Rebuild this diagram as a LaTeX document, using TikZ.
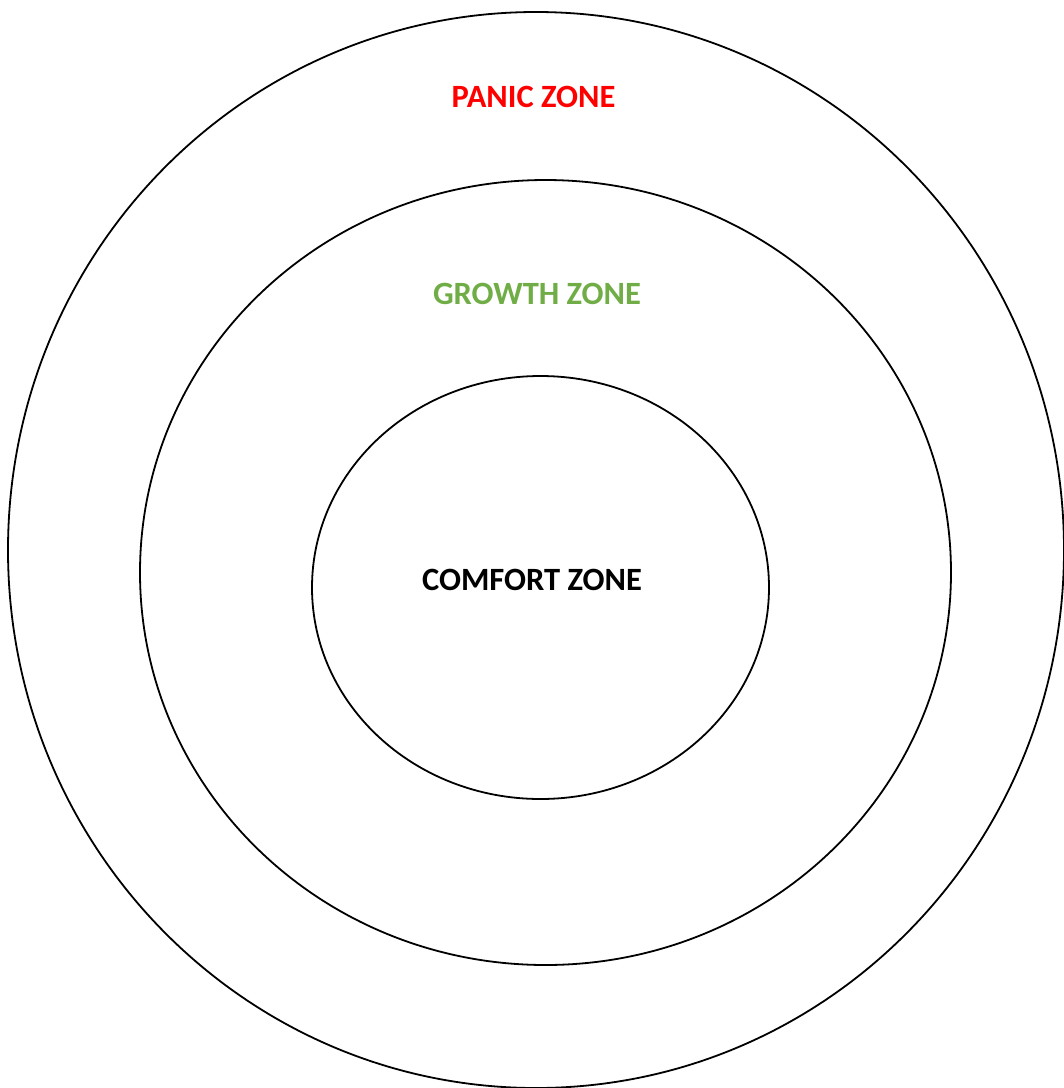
\documentclass[tikz,border=0pt]{standalone}
\usepackage{fontspec}
\setmainfont{Carlito}
\definecolor{panicred}{RGB}{255,0,0}
\definecolor{growthgreen}{RGB}{112,173,71}
\begin{document}
\begin{tikzpicture}[x=1pt,y=-1pt,
  ring/.style={draw=black,line width=1.8pt},
  zonelabel/.style={font=\fontsize{32.5}{38}\selectfont\bfseries,inner sep=0pt,anchor=center}]
\useasboundingbox (0,0) rectangle (1064,1088);
\draw[ring] (536,550) ellipse [x radius=528, y radius=538];
\draw[ring] (545.5,572.5) ellipse [x radius=405.5, y radius=392.5];
\draw[ring] (540.5,587.5) ellipse [x radius=228.5, y radius=211.5];
\node[zonelabel,text=panicred] (panic) at (533.5,97) {PANIC ZONE};
\node[zonelabel,text=growthgreen] (growth) at (537,294) {GROWTH ZONE};
\node[zonelabel,text=black] (comfort) at (532,580) {COMFORT ZONE};
\end{tikzpicture}
\end{document}
